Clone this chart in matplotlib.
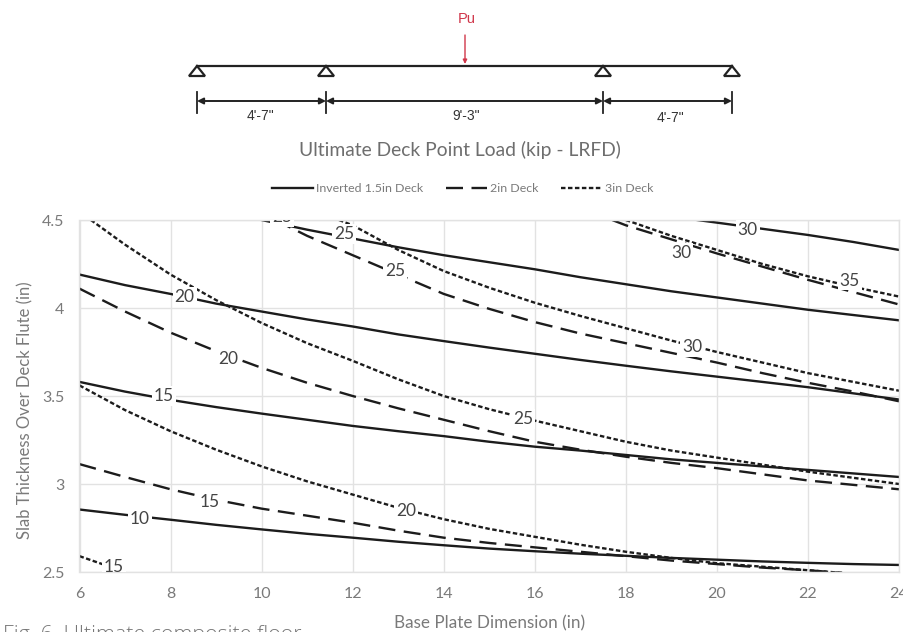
import matplotlib
matplotlib.use("Agg")
import matplotlib.pyplot as plt
from matplotlib.lines import Line2D
from matplotlib.patches import Polygon

W, H = 904, 632
FONT = "Lato"
GREY = "#7a7a7a"

# ---- data ----
x_ticks = [6, 8, 10, 12, 14, 16, 18, 20, 22, 24]
y_ticks = [2.5, 3, 3.5, 4, 4.5]
y_tick_labels = ["2.5", "3", "3.5", "4", "4.5"]

full_x = [6, 7, 8, 9, 10, 11, 12, 13, 14, 15, 16, 17, 18, 19, 20, 21, 22, 23, 24]

s10_y = [2.855, 2.825, 2.797, 2.768, 2.742, 2.717, 2.695, 2.672, 2.652, 2.633,
         2.618, 2.604, 2.592, 2.58, 2.57, 2.56, 2.552, 2.545, 2.54]
s15_y = [3.58, 3.525, 3.478, 3.437, 3.40, 3.365, 3.33, 3.30, 3.272, 3.24,
         3.212, 3.19, 3.165, 3.14, 3.12, 3.10, 3.08, 3.06, 3.04]
s20_y = [4.19, 4.13, 4.08, 4.025, 3.98, 3.935, 3.895, 3.85, 3.812, 3.775,
         3.74, 3.705, 3.672, 3.64, 3.61, 3.58, 3.55, 3.515, 3.48]
s25_x = [10, 11, 12, 13, 14, 15, 16, 17, 18, 19, 20, 21, 22, 23, 24]
s25_y = [4.50, 4.445, 4.395, 4.345, 4.30, 4.26, 4.22, 4.175, 4.135, 4.095,
         4.06, 4.025, 3.99, 3.96, 3.93]
s30_x = [19.57, 20, 21, 22, 23, 24]
s30_y = [4.50, 4.485, 4.45, 4.415, 4.375, 4.33]

d15_x = [6, 7, 8, 9, 10, 11, 12, 13, 14, 15, 16, 17, 18, 19, 20, 21, 22, 22.75]
d15_y = [3.113, 3.04, 2.97, 2.91, 2.86, 2.82, 2.78, 2.735, 2.695, 2.665,
         2.64, 2.615, 2.59, 2.565, 2.545, 2.525, 2.51, 2.495]
d20_y = [4.11, 3.98, 3.86, 3.755, 3.66, 3.575, 3.50, 3.43, 3.365, 3.30,
         3.24, 3.195, 3.155, 3.12, 3.09, 3.055, 3.02, 2.995, 2.97]
d25_x = [10.3, 11, 12, 13, 14, 15, 16, 17, 18, 19, 20, 21, 22, 23, 24]
d25_y = [4.50, 4.41, 4.30, 4.19, 4.08, 3.995, 3.92, 3.855, 3.80, 3.745,
         3.69, 3.63, 3.575, 3.525, 3.47]
d30_x = [17.7, 18, 19, 20, 21, 22, 23, 24]
d30_y = [4.50, 4.47, 4.39, 4.31, 4.235, 4.16, 4.09, 4.02]

t15_x = [6, 6.5, 7.05]
t15_y = [2.59, 2.545, 2.49]
t20_x = [6, 7, 8, 9, 10, 11, 12, 13, 14, 15, 16, 17, 18, 19, 20, 21, 22, 22.75]
t20_y = [3.56, 3.42, 3.30, 3.195, 3.10, 3.015, 2.94, 2.865, 2.80, 2.745,
         2.70, 2.655, 2.615, 2.58, 2.55, 2.53, 2.51, 2.495]
t25_x = [6.25, 7, 8, 9, 10, 11, 12, 13, 14, 15, 16, 17, 18, 19, 20, 21, 22, 23, 24]
t25_y = [4.50, 4.36, 4.19, 4.045, 3.915, 3.80, 3.70, 3.595, 3.50, 3.425,
         3.36, 3.30, 3.24, 3.19, 3.15, 3.11, 3.07, 3.035, 3.00]
t30_x = [11.7, 12, 13, 14, 15, 16, 17, 18, 19, 20, 21, 22, 23, 24]
t30_y = [4.50, 4.47, 4.33, 4.21, 4.115, 4.03, 3.955, 3.885, 3.815, 3.75,
         3.69, 3.63, 3.58, 3.53]
t35_x = [18, 19, 20, 21, 22, 23, 24]
t35_y = [4.50, 4.41, 4.33, 4.25, 4.18, 4.12, 4.065]

label_x = [6.75, 7.32, 8.86, 13.18, 7.85, 8.31, 9.26, 11.82, 12.94, 10.45,
           20.68, 19.22, 22.92, 19.46, 15.74]
label_y = [2.53, 2.80, 2.895, 2.845, 3.50, 4.065, 3.71, 4.42, 4.21, 4.515,
           4.443, 4.315, 4.156, 3.78, 3.37]
label_txt = ["15", "10", "15", "20", "15", "20", "20", "25", "25", "25",
             "30", "30", "35", "30", "25"]

span_labels = ["4'-7\"", "9'-3\"", "4'-7\""]
support_px = [197, 326, 603, 732]
load_px = 465

# ---- main chart ----
fig = plt.figure(figsize=(W / 100, H / 100), dpi=100, facecolor="white")
ax = fig.add_axes([79.5 / W, 1 - 572 / H, 819.5 / W, 352 / H])
ax.set_xlim(6, 24)
ax.set_ylim(2.5, 4.5)
ax.set_xticks(x_ticks)
ax.set_yticks(y_ticks)
ax.set_yticklabels(y_tick_labels)
ax.grid(True, color="#e2e2e2", lw=1.0)
ax.set_axisbelow(True)
for sp in ax.spines.values():
    sp.set_color("#e2e2e2")
    sp.set_linewidth(1.0)
ax.tick_params(length=0, pad=11, labelsize=11.5, labelcolor=GREY)
for t in ax.get_xticklabels() + ax.get_yticklabels():
    t.set_fontfamily(FONT)

INK = "#1c1c1c"
solid = dict(color=INK, lw=1.7, ls="-")
dash = dict(color=INK, lw=1.7, ls=(0, (7.2, 3.6)))
dot = dict(color=INK, lw=1.7, ls=(0, (1.9, 1.05)))

for xs, ys in [(full_x, s10_y), (full_x, s15_y), (full_x, s20_y), (s25_x, s25_y), (s30_x, s30_y)]:
    ax.plot(xs, ys, **solid)
for xs, ys in [(d15_x, d15_y), (full_x, d20_y), (d25_x, d25_y), (d30_x, d30_y)]:
    ax.plot(xs, ys, **dash)
for xs, ys in [(t15_x, t15_y), (t20_x, t20_y), (t25_x, t25_y), (t30_x, t30_y), (t35_x, t35_y)]:
    ax.plot(xs, ys, **dot)

for lx, ly, lt in zip(label_x, label_y, label_txt):
    ax.text(lx, ly, lt, ha="center", va="center", fontsize=12.5, color="#444444",
            family=FONT, clip_on=True, zorder=5,
            bbox=dict(facecolor="white", edgecolor="none", pad=1.4))

ax.set_xlabel("Base Plate Dimension (in)", fontsize=12.3, color=GREY, family=FONT, labelpad=10)
ax.set_ylabel("Slab Thickness Over Deck Flute (in)", fontsize=12, color=GREY, family=FONT,
              labelpad=6, y=0.46)

# ---- overlay in pixel space: beam sketch, title, legend, caption ----
ov = fig.add_axes([0, 0, 1, 1], zorder=-1)
ov.set_xlim(0, W)
ov.set_ylim(H, 0)
ov.axis("off")

ov.plot([support_px[0], support_px[-1]], [66, 66], color="#222222", lw=1.6)
for sx in support_px:
    ov.add_patch(Polygon([(sx, 66), (sx - 8, 76), (sx + 8, 76)], closed=True,
                         facecolor="white", edgecolor="#222222", lw=1.6))
    ov.plot([sx, sx], [92, 113], color="#222222", lw=1.3)
for a, b, txt, tx, ty in zip(support_px[:-1], support_px[1:], span_labels,
                             [260, 466, 670], [116, 116, 118]):
    ov.annotate("", xy=(a, 101), xytext=(b, 101),
                arrowprops=dict(arrowstyle="<|-|>", color="#222222", lw=1.4,
                                shrinkA=0, shrinkB=0, mutation_scale=9))
    ov.text(tx, ty, txt, ha="center", va="center", fontsize=10, color="#333333",
            family="Liberation Sans")
ov.annotate("", xy=(load_px, 64), xytext=(load_px, 35),
            arrowprops=dict(arrowstyle="-|>", color="#d0364a", lw=1.0,
                            shrinkA=0, shrinkB=0, mutation_scale=6))
ov.text(467, 19, "Pu", ha="center", va="center", fontsize=10.5, color="#d0364a",
        family="Liberation Sans")

ov.text(460, 150, "Ultimate Deck Point Load (kip - LRFD)", ha="center", va="center",
        fontsize=13.9, color="#6e6e6e", family=FONT)
ov.text(3, 640, "Fig. 6. Ultimate composite floor", ha="left", va="baseline",
        fontsize=15.4, color="#777777", family="Open Sans", fontweight="light")

handles = [Line2D([], [], **solid), Line2D([], [], **dash), Line2D([], [], **dot)]
leg = fig.legend(handles, ["Inverted 1.5in Deck", "2in Deck", "3in Deck"], ncol=3,
                 loc="center", bbox_to_anchor=(463 / W, 1 - 188.5 / H), frameon=False,
                 prop={"family": FONT, "size": 8.9}, labelcolor=GREY,
                 handlelength=3.3, handletextpad=0.25, columnspacing=1.85)

fig.savefig("out.png", dpi=100)
